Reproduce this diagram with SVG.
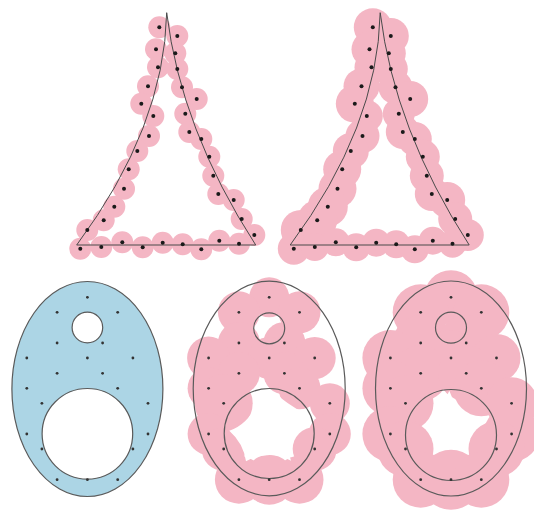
<svg xmlns="http://www.w3.org/2000/svg" width="534" height="513" viewBox="0 0 534 513">
<style>
.outline{fill:none;stroke:#4a4a4a;stroke-width:1}
.eline{fill:none;stroke:#5a5a5a;stroke-width:1.2}
.blue{fill:#acd5e5;stroke:#5a5a5a;stroke-width:1.2}
.hole{fill:#fff;stroke:#5a5a5a;stroke-width:1.2}
.pk, .pk circle{fill:#f4b6c4}
.white{fill:#fff}
</style>
<defs>
<g id="tdots">
<circle cx="159.3" cy="27.3" r="2"/><circle cx="177.3" cy="36" r="2"/><circle cx="156" cy="49.3" r="2"/><circle cx="175.3" cy="53.3" r="2"/>
<circle cx="158" cy="67.3" r="2"/><circle cx="177.3" cy="69" r="2"/><circle cx="148" cy="86.3" r="2"/><circle cx="182" cy="87.3" r="2"/>
<circle cx="196.7" cy="99" r="2"/><circle cx="141.3" cy="103.7" r="2"/><circle cx="153.3" cy="116" r="2"/><circle cx="185.3" cy="113.7" r="2"/>
<circle cx="189.3" cy="132" r="2"/><circle cx="149" cy="136" r="2"/><circle cx="201.3" cy="139" r="2"/><circle cx="137.3" cy="151" r="2"/>
<circle cx="209.3" cy="156.7" r="2"/><circle cx="128.7" cy="169.3" r="2"/><circle cx="213.3" cy="175.7" r="2"/><circle cx="124" cy="188.7" r="2"/>
<circle cx="218.3" cy="194" r="2"/><circle cx="233.7" cy="200" r="2"/><circle cx="114.3" cy="206.7" r="2"/><circle cx="103.7" cy="220.3" r="2"/>
<circle cx="241.7" cy="219" r="2"/><circle cx="87.3" cy="230" r="2"/><circle cx="254.3" cy="235" r="2"/><circle cx="80.3" cy="248.7" r="2"/>
<circle cx="101.3" cy="247" r="2"/><circle cx="122.3" cy="242.3" r="2"/><circle cx="142.7" cy="247.3" r="2"/><circle cx="162.7" cy="242.7" r="2"/>
<circle cx="182.7" cy="244.3" r="2"/><circle cx="201.3" cy="249.3" r="2"/><circle cx="219.3" cy="240.7" r="2"/><circle cx="239" cy="243.7" r="2"/>
</g>
<g id="edots">
<circle cx="0" cy="297.3" r="1.4"/><circle cx="-30.3" cy="312.3" r="1.4"/><circle cx="30.3" cy="312.3" r="1.4"/>
<circle cx="-30.3" cy="343" r="1.4"/><circle cx="15.2" cy="343" r="1.4"/>
<circle cx="-60.6" cy="358" r="1.4"/><circle cx="0" cy="358" r="1.4"/><circle cx="45.5" cy="358" r="1.4"/>
<circle cx="-30.3" cy="373.3" r="1.4"/><circle cx="15.2" cy="373.3" r="1.4"/>
<circle cx="-60.6" cy="388.3" r="1.4"/><circle cx="30.3" cy="388.3" r="1.4"/>
<circle cx="-45.5" cy="403.3" r="1.4"/><circle cx="60.6" cy="403.3" r="1.4"/>
<circle cx="-60.6" cy="434" r="1.4"/><circle cx="60.6" cy="434" r="1.4"/>
<circle cx="-45.5" cy="449" r="1.4"/><circle cx="45.5" cy="449" r="1.4"/>
<circle cx="-30.3" cy="479.7" r="1.4"/><circle cx="0" cy="479.7" r="1.4"/><circle cx="30.3" cy="479.7" r="1.4"/>
</g>
<path id="tri" d="M166.7,12.7 Q164.3,127.2 76.7,245 L255.7,245 Q180.8,129.2 166.7,12.7 Z"/>
</defs>

<g id="triangle-small">
<g class="pk">
<circle cx="159.3" cy="27.3" r="11"/><circle cx="177.3" cy="36" r="11"/><circle cx="156" cy="49.3" r="11"/><circle cx="175.3" cy="53.3" r="11"/>
<circle cx="158" cy="67.3" r="11"/><circle cx="177.3" cy="69" r="11"/><circle cx="148" cy="86.3" r="11"/><circle cx="182" cy="87.3" r="11"/>
<circle cx="196.7" cy="99" r="11"/><circle cx="141.3" cy="103.7" r="11"/><circle cx="153.3" cy="116" r="11"/><circle cx="185.3" cy="113.7" r="11"/>
<circle cx="189.3" cy="132" r="11"/><circle cx="149" cy="136" r="11"/><circle cx="201.3" cy="139" r="11"/><circle cx="137.3" cy="151" r="11"/>
<circle cx="209.3" cy="156.7" r="11"/><circle cx="128.7" cy="169.3" r="11"/><circle cx="213.3" cy="175.7" r="11"/><circle cx="124" cy="188.7" r="11"/>
<circle cx="218.3" cy="194" r="11"/><circle cx="233.7" cy="200" r="11"/><circle cx="114.3" cy="206.7" r="11"/><circle cx="103.7" cy="220.3" r="11"/>
<circle cx="241.7" cy="219" r="11"/><circle cx="87.3" cy="230" r="11"/><circle cx="254.3" cy="235" r="11"/><circle cx="80.3" cy="248.7" r="11"/>
<circle cx="101.3" cy="247" r="11"/><circle cx="122.3" cy="242.3" r="11"/><circle cx="142.7" cy="247.3" r="11"/><circle cx="162.7" cy="242.7" r="11"/>
<circle cx="182.7" cy="244.3" r="11"/><circle cx="201.3" cy="249.3" r="11"/><circle cx="219.3" cy="240.7" r="11"/><circle cx="239" cy="243.7" r="11"/>
</g>
<use href="#tri" class="outline"/>
<use href="#tdots" fill="#1a1a1a"/>
</g>

<g id="triangle-large" transform="translate(213.5,0)">
<g class="pk">
<circle cx="159.3" cy="27.3" r="19"/><circle cx="177.3" cy="36" r="18"/><circle cx="156" cy="49.3" r="18"/><circle cx="175.3" cy="53.3" r="17"/>
<circle cx="158" cy="67.3" r="17"/><circle cx="177.3" cy="69" r="17"/><circle cx="148" cy="86.3" r="18"/><circle cx="182" cy="87.3" r="17"/>
<circle cx="196.7" cy="99" r="18"/><circle cx="141.3" cy="103.7" r="19"/><circle cx="153.3" cy="116" r="16"/><circle cx="185.3" cy="113.7" r="16"/>
<circle cx="189.3" cy="132" r="17"/><circle cx="149" cy="136" r="17"/><circle cx="201.3" cy="139" r="17"/><circle cx="137.3" cy="151" r="18"/>
<circle cx="209.3" cy="156.7" r="17"/><circle cx="128.7" cy="169.3" r="19"/><circle cx="213.3" cy="175.7" r="17"/><circle cx="124" cy="188.7" r="19"/>
<circle cx="218.3" cy="194" r="17"/><circle cx="233.7" cy="200" r="18"/><circle cx="114.3" cy="206.7" r="20"/><circle cx="103.7" cy="220.3" r="20"/>
<circle cx="241.7" cy="219" r="17"/><circle cx="87.3" cy="230" r="20"/><circle cx="254.3" cy="235" r="16"/><circle cx="80.3" cy="248.7" r="16"/>
<circle cx="101.3" cy="247" r="14"/><circle cx="122.3" cy="242.3" r="14"/><circle cx="142.7" cy="247.3" r="14"/><circle cx="162.7" cy="242.7" r="14"/>
<circle cx="182.7" cy="244.3" r="14"/><circle cx="201.3" cy="249.3" r="14"/><circle cx="219.3" cy="240.7" r="14"/><circle cx="239" cy="243.7" r="14"/>
</g>
<use href="#tri" class="outline"/>
<use href="#tdots" fill="#1a1a1a"/>
</g>

<g id="shape-blue">
<ellipse class="blue" cx="87.4" cy="389" rx="75.5" ry="107.5"/>
<circle class="hole" cx="87.4" cy="327.5" r="15.3"/>
<circle class="hole" cx="87.4" cy="433.8" r="45.3"/>
<use href="#edots" x="87.4" fill="#333"/>
</g>

<g id="shape-pink-mid">
<g class="pk">
<circle cx="269.2" cy="297.3" r="20"/>
<circle cx="238.9" cy="312.3" r="21"/><circle cx="299.5" cy="312.3" r="21"/>
<circle cx="238.9" cy="343" r="21"/><circle cx="284.4" cy="343" r="21"/>
<circle cx="208.6" cy="358" r="21.5"/><circle cx="269.2" cy="358" r="21"/><circle cx="314.7" cy="358" r="21"/>
<circle cx="238.9" cy="373.3" r="21"/><circle cx="284.4" cy="373.3" r="21"/>
<circle cx="208.6" cy="388.3" r="21"/><circle cx="299.5" cy="388.3" r="21"/>
<circle cx="223.7" cy="403.3" r="29"/><circle cx="329.8" cy="403.3" r="20"/>
<circle cx="208.6" cy="434" r="21"/><circle cx="329.8" cy="434" r="21"/>
<circle cx="223.7" cy="449" r="22"/><circle cx="314.7" cy="449" r="22"/>
<circle cx="238.9" cy="479.7" r="24"/><circle cx="269.2" cy="479.7" r="25"/><circle cx="299.5" cy="479.7" r="24"/>
</g>
<path class="white" d="M261.7,382.7 Q287.6,405 311,417.3 Q284,441 291,460.7 Q269.5,449 246,461.3 Q243.3,443 229.3,430.7 Q256.5,421.3 261.7,382.7 Z"/>
<ellipse class="eline" cx="269.2" cy="388.5" rx="76" ry="107.3"/>
<circle class="eline" cx="269.2" cy="328.3" r="15.5"/>
<circle class="eline" cx="269.2" cy="433.5" r="45"/>
<use href="#edots" x="269.2" fill="#333"/>
</g>

<g id="shape-pink-right">
<g class="pk">
<circle cx="451" cy="297.3" r="27"/>
<circle cx="420.7" cy="312.3" r="28"/><circle cx="481.3" cy="312.3" r="28"/>
<circle cx="420.7" cy="343" r="28"/><circle cx="466.2" cy="343" r="28"/>
<circle cx="390.4" cy="358" r="28"/><circle cx="451" cy="358" r="28"/><circle cx="496.5" cy="358" r="24"/>
<circle cx="420.7" cy="373.3" r="28"/><circle cx="466.2" cy="373.3" r="28"/>
<circle cx="390.4" cy="388.3" r="28"/><circle cx="481.3" cy="388.3" r="28"/>
<circle cx="405.5" cy="403.3" r="28"/><circle cx="511.6" cy="403.3" r="26"/>
<circle cx="390.4" cy="434" r="28"/><circle cx="511.6" cy="434" r="28"/>
<circle cx="405.5" cy="449" r="28"/><circle cx="496.5" cy="449" r="28"/>
<circle cx="420.7" cy="479.7" r="28"/><circle cx="451" cy="479.7" r="30"/><circle cx="481.3" cy="479.7" r="28"/>
</g>
<path class="white" d="M449.3,390.7 Q458.5,416.3 481.7,420.7 Q459.8,436.6 462.7,450 Q449.8,445.5 437.7,451 Q434,438 428.3,423.3 Q442,409 449.3,390.7 Z"/>
<ellipse class="eline" cx="451" cy="388.5" rx="75.5" ry="107.5"/>
<circle class="eline" cx="451" cy="327.7" r="15.5"/>
<circle class="eline" cx="451" cy="435" r="45.5"/>
<use href="#edots" x="451" fill="#333"/>
</g>
</svg>
